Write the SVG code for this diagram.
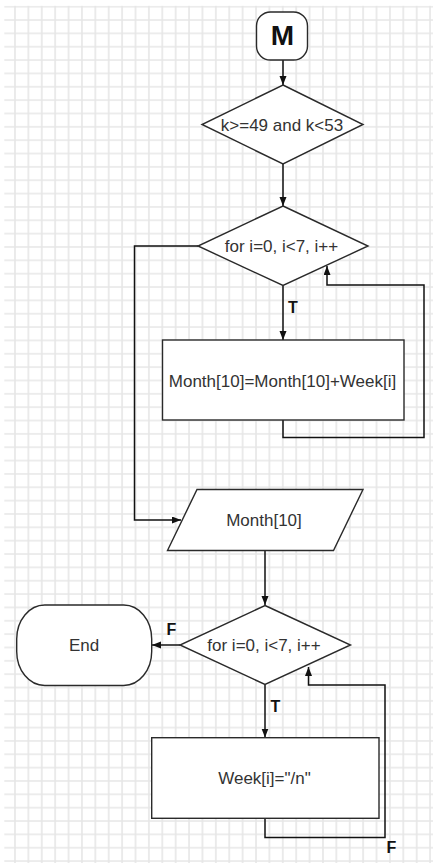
<svg xmlns="http://www.w3.org/2000/svg" width="433" height="863" viewBox="0 0 433 863">
<defs>
<pattern id="grid" x="8.3" y="0" width="13.39" height="13.35" patternUnits="userSpaceOnUse">
<path d="M6.69 0V13.35M0 6.7H13.39" stroke="#e6e6e6" stroke-width="1.6" fill="none"/>
</pattern>
<marker id="arr" markerWidth="10" markerHeight="8" refX="9" refY="3.5" orient="auto" markerUnits="userSpaceOnUse">
<path d="M0,0 L9,3.5 L0,7 z" fill="#111"/>
</marker>
<style>
.shape{fill:#fff;stroke:#2a2a2a;stroke-width:1.4}
.txt{font-family:"Liberation Sans",Arial,sans-serif;font-size:17px;fill:#333;text-anchor:middle}
.lbl{font-family:"Liberation Sans",Arial,sans-serif;font-size:16px;font-weight:bold;fill:#111}
.conn{fill:none;stroke:#111;stroke-width:1.5}
</style>
</defs>
<rect x="0" y="0" width="433" height="863" fill="#fff"/>
<rect x="4.3" y="5.8" width="428.7" height="857.2" fill="url(#grid)"/>

<g id="connectors">
<path class="conn" d="M283 60V85" marker-end="url(#arr)"/>
<path class="conn" d="M283 164V206" marker-end="url(#arr)"/>
<path class="conn" d="M283 285.5V340" marker-end="url(#arr)"/>
<path class="conn" d="M283 420V437.5H424V285H327V266" marker-end="url(#arr)"/>
<path class="conn" d="M198 246H134.5V520H181" marker-end="url(#arr)"/>
<path class="conn" d="M265 550.5V605" marker-end="url(#arr)"/>
<path class="conn" d="M180 645H152" marker-end="url(#arr)"/>
<path class="conn" d="M265 684.5V737.5" marker-end="url(#arr)"/>
<path class="conn" d="M265 818.5V837.5H385V685H308.5V667" marker-end="url(#arr)"/>
<text class="lbl" x="288" y="313">T</text>
<text class="lbl" x="270.5" y="712">T</text>
<text class="lbl" x="166.5" y="635">F</text>
<text class="lbl" x="386.5" y="853">F</text>
</g>

<g id="start">
<rect class="shape" x="256.5" y="12" width="51" height="48" rx="14"/>
<text x="282.5" y="45" font-family="Liberation Sans, Arial, sans-serif" font-size="28" font-weight="bold" fill="#111" text-anchor="middle">M</text>
</g>

<g id="cond1">
<polygon class="shape" points="283,85 363,124.5 283,164 202,124.5"/>
<text class="txt" x="282" y="130.5">k&gt;=49 and k&lt;53</text>
</g>

<g id="loop1">
<polygon class="shape" points="283,206 368,246 283,285.5 198,246"/>
<text class="txt" x="281.5" y="252">for i=0, i&lt;7, i++</text>
</g>

<g id="sum">
<rect class="shape" x="162.5" y="340" width="241.5" height="80"/>
<text class="txt" x="282.5" y="386.5">Month[10]=Month[10]+Week[i]</text>
</g>

<g id="output">
<polygon class="shape" points="197,489.5 363,489.5 333.5,550.5 167.5,550.5"/>
<text class="txt" x="264" y="526">Month[10]</text>
</g>

<g id="loop2">
<polygon class="shape" points="265,605.5 350.5,645 265,684.5 180,645"/>
<text class="txt" x="264" y="651">for i=0, i&lt;7, i++</text>
</g>

<g id="end">
<rect class="shape" x="16.7" y="605" width="135" height="80.5" rx="28" ry="34"/>
<text class="txt" x="84" y="651">End</text>
</g>

<g id="reset">
<rect class="shape" x="151.7" y="737.7" width="227.3" height="80.6"/>
<text class="txt" x="264.5" y="784">Week[i]="/n"</text>
</g>
</svg>
